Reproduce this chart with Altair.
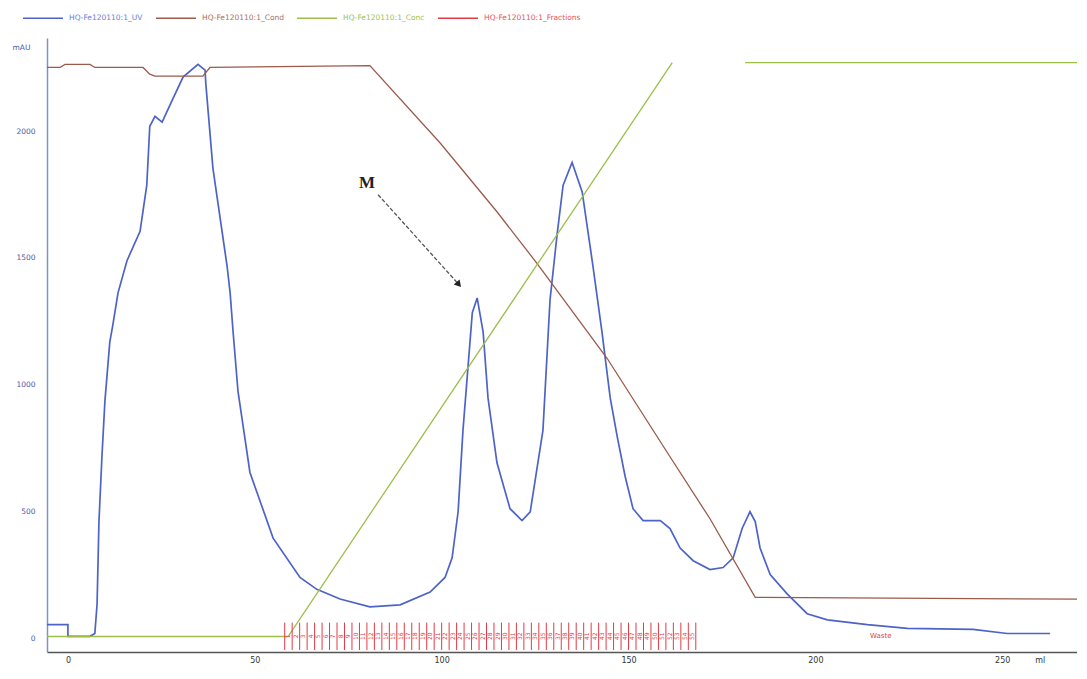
import altair as alt
import pandas as pd

# ---------------- data ----------------
series_names = ["HQ-Fe120110:1_UV", "HQ-Fe120110:1_Cond",
                "HQ-Fe120110:1_Conc", "HQ-Fe120110:1_Fractions"]
series_colors = ["#4d63c8", "#9b5a4a", "#9dbf4a", "#e23b45"]

uv_ml = [-5.6, 0.0, 0.0, 5.9, 7.2, 7.8, 8.3, 9.1, 9.9, 11.2, 12.0, 13.4, 15.8,
         19.3, 21.1, 21.9, 23.3, 25.2, 28.1, 30.8, 34.8, 36.7, 36.9, 38.8,
         42.6, 43.4, 44.2, 45.5, 48.7, 54.9, 62.1, 66.6, 72.8, 80.8, 88.9,
         96.9, 100.9, 102.8, 104.4, 105.7, 107.1, 108.2, 109.5, 111.1, 112.4,
         114.8, 118.3, 121.5, 123.7, 127.1, 129.0, 130.9, 132.5, 134.9, 137.6,
         140.5, 142.9, 145.1, 147.0, 149.1, 151.2, 153.9, 158.5, 161.1, 163.8,
         167.3, 171.8, 175.3, 178.0, 180.4, 182.5, 183.9, 185.2, 187.9, 192.5,
         197.8, 203.2, 213.9, 224.6, 242.2, 251.3, 262.8]
uv_mau = [54, 54, 8, 8, 19, 135, 460, 716, 936, 1168, 1234, 1362, 1489,
          1605, 1787, 2019, 2058, 2035, 2128, 2213, 2263, 2240, 2186, 1853,
          1466, 1362, 1207, 975, 654, 395, 240, 193, 155, 124, 132,
          182, 240, 317, 499, 820, 1079, 1284, 1342, 1207, 948,
          692, 511, 464, 499, 820, 1335, 1594, 1787, 1876, 1760,
          1466, 1207, 948, 793, 638, 511, 464, 464, 433, 356,
          306, 271, 279, 317, 433, 499, 460, 356, 251, 174,
          97, 73, 54, 39, 35, 19, 19]

cond_ml = [-5.6, -2.1, -0.8, 5.9, 7.2, 20.1, 21.9, 23.3, 36.1, 38.0, 80.8,
           99.6, 114.8, 125.5, 144.3, 161.1, 171.8, 183.9, 270.0]
cond_ms = [95.2, 95.2, 95.7, 95.7, 95.2, 95.2, 94.1, 93.8, 93.8, 95.2, 95.5,
           82.9, 71.7, 63.3, 47.8, 31.8, 21.7, 8.9, 8.6]

conc_ml = [-5.6, 58.9, 161.7, 181.2, 270.0]
conc_pct = [0, 0, 100, 100, 100]
conc_seg = [1, 1, 1, 2, 2]

frac_ml = [58, 60, 62, 64, 66, 68, 70, 72, 74, 76, 78, 80, 82, 84, 86, 88,
           90, 92, 94, 96, 98, 100, 102, 104, 106, 108, 110, 112, 114, 116,
           118, 120, 122, 124, 126, 128, 130, 132, 134, 136, 138, 140, 142,
           144, 146, 148, 150, 152, 154, 156, 158, 160, 162, 164, 166, 168]
frac_labels = [str(i) for i in range(1, len(frac_ml))]

x_ticks = [0, 50, 100, 150, 200, 250, 260]
y_ticks = [0, 500, 1000, 1500, 2000]

annot_label = ["M"]
annot_ml = [80.0]
annot_mau = [1795]
arrow_ml = [83.0]
arrow_mau = [1749]
arrow_ml2 = [104.6]
arrow_mau2 = [1395]

waste_label = ["Waste"]
waste_ml = [217.5]
waste_mau = [8]

# ---------------- scales / axes ----------------
X_DOMAIN = [-5.6, 270]
UV_DOMAIN = [-54, 2367]
COND_DOMAIN = [0, 100]
CONC_DOMAIN = [-2.7, 104.3]

xs = alt.Scale(domain=X_DOMAIN, nice=False, zero=False)
x_axis = alt.Axis(values=x_ticks, title=None,
                  labelExpr="datum.value == 260 ? 'ml' : datum.label",
                  labelFontSize=8, labelColor="#333333", labelPadding=4,
                  ticks=False, grid=False, domainColor="#555555",
                  domainWidth=1.5, labelFlush=False, labelFont="DejaVu Sans")
y_axis = alt.Axis(values=y_ticks, format="d", title="mAU", titleAngle=0,
                  titleX=-35, titleY=9, titleAlign="left",
                  titleBaseline="middle",
                  titleFontSize=7.5, titleFontWeight="normal",
                  titleColor="#4a58a8", titleFont="DejaVu Sans",
                  labelFontSize=7.5, labelColor="#4a58a8", labelPadding=12,
                  labelFont="DejaVu Sans",
                  ticks=False, grid=False, domainColor="#8090cc",
                  domainWidth=1.5)

label_expr = ("datum.value == '%s' ? '#6a7ed6' : datum.value == '%s' ? '#a8705f'"
              " : datum.value == '%s' ? '#9cbf55' : '#e85560'"
              % (series_names[0], series_names[1], series_names[2]))
legend = alt.Legend(orient="none", legendX=-25, legendY=-41,
                    direction="horizontal", title=None, symbolType="stroke",
                    symbolSize=1600, symbolStrokeWidth=1.5,
                    labelFontSize=7.5, labelFont="DejaVu Sans",
                    labelColor={"expr": label_expr},
                    columnPadding=10, labelOffset=5)
color_scale = alt.Scale(domain=series_names, range=series_colors)


def col():
    return alt.Color("series:N", scale=color_scale, legend=legend)


def xenc(field="ml:Q"):
    return alt.X(field, scale=xs, axis=x_axis)


uvs = alt.Scale(domain=UV_DOMAIN, nice=False, zero=False)

# ---------------- layers ----------------
uv_df = pd.DataFrame({"ml": uv_ml, "v": uv_mau,
                      "i": list(range(len(uv_ml))),
                      "series": series_names[0]})
uv = alt.Chart(uv_df).mark_line(strokeWidth=1.7).encode(
    x=xenc(),
    y=alt.Y("v:Q", scale=uvs, axis=y_axis),
    order="i:Q",
    color=col(),
)

cond_df = pd.DataFrame({"ml": cond_ml, "v": cond_ms,
                        "i": list(range(len(cond_ml))),
                        "series": series_names[1]})
cond = alt.Chart(cond_df).mark_line(strokeWidth=1.3).encode(
    x=xenc(),
    y=alt.Y("v:Q", scale=alt.Scale(domain=COND_DOMAIN, nice=False, zero=False),
            axis=None),
    order="i:Q",
    color=col(),
)

conc_df = pd.DataFrame({"ml": conc_ml, "v": conc_pct, "seg": conc_seg,
                        "series": series_names[2]})
conc = alt.Chart(conc_df).mark_line(strokeWidth=1.3).encode(
    x=xenc(),
    y=alt.Y("v:Q", scale=alt.Scale(domain=CONC_DOMAIN, nice=False, zero=False),
            axis=None),
    detail="seg:N",
    color=col(),
)

frac_df = pd.DataFrame({"ml": frac_ml, "lo": -46, "hi": 62,
                        "series": series_names[3]})
frac = alt.Chart(frac_df).mark_rule(strokeWidth=1).encode(
    x=xenc(),
    y=alt.Y("lo:Q", scale=uvs, axis=None),
    y2="hi:Q",
    color=col(),
)

fl_df = pd.DataFrame({"ml": [m + 1 for m in frac_ml[:-1]],
                      "v": 8, "t": frac_labels})
frac_text = alt.Chart(fl_df).mark_text(
    angle=270, fontSize=6, color="#e23b45", font="DejaVu Sans",
    align="center", baseline="middle").encode(
    x=xenc(),
    y=alt.Y("v:Q", scale=uvs, axis=None),
    text="t:N",
)

waste_df = pd.DataFrame({"ml": waste_ml, "v": waste_mau, "t": waste_label})
waste = alt.Chart(waste_df).mark_text(
    fontSize=7, color="#e23b45", font="DejaVu Sans").encode(
    x=xenc(),
    y=alt.Y("v:Q", scale=uvs, axis=None),
    text="t:N",
)

m_df = pd.DataFrame({"ml": annot_ml, "v": annot_mau, "t": annot_label})
m_text = alt.Chart(m_df).mark_text(
    fontSize=17, fontWeight="bold", font="Liberation Serif",
    color="#222222").encode(
    x=xenc(),
    y=alt.Y("v:Q", scale=uvs, axis=None),
    text="t:N",
)

arr_df = pd.DataFrame({"ml": arrow_ml, "v": arrow_mau,
                       "ml2": arrow_ml2, "v2": arrow_mau2})
arrow = alt.Chart(arr_df).mark_rule(
    strokeWidth=1.3, color="#555555", strokeDash=[4, 2]).encode(
    x=xenc(),
    y=alt.Y("v:Q", scale=uvs, axis=None),
    x2="ml2:Q", y2="v2:Q",
)
head = alt.Chart(arr_df).mark_point(
    shape="triangle-up", filled=True, size=60, angle=139,
    color="#222222", opacity=1).encode(
    x=xenc("ml2:Q"),
    y=alt.Y("v2:Q", scale=uvs, axis=None),
)

chart = alt.layer(uv, cond, conc, frac, frac_text, waste, m_text, arrow, head
                  ).resolve_scale(y="independent").properties(
    width=1030, height=614,
    background="white",
    autosize=alt.AutoSizeParams(type="none"),
    padding={"left": 39, "top": 30, "right": 0, "bottom": 12},
).configure_view(strokeWidth=0, stroke="transparent")

chart.save("out.html", embed_options={"renderer": "svg", "actions": False})
